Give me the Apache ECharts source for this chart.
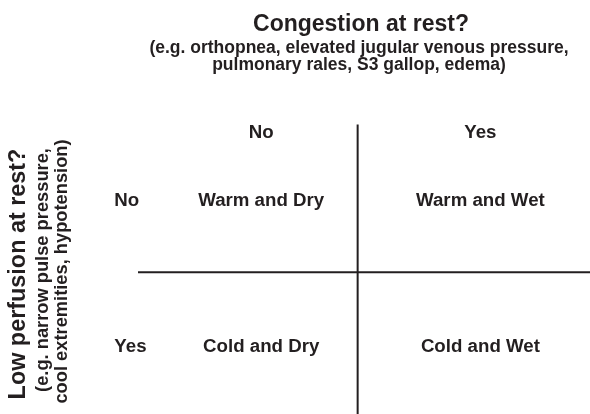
<!DOCTYPE html>
<html>
<head>
<meta charset="utf-8">
<script src="https://cdn.jsdelivr.net/npm/echarts@6/dist/echarts.min.js"></script>
<style>
  html, body { margin: 0; padding: 0; background: #fff; }
  #chart { width: 590px; height: 414px; }
</style>
</head>
<body>
<div id="chart"></div>
<script>
// ---- data ----
var colLabels = ['No', 'Yes'];            // congestion at rest?
var rowLabels = ['No', 'Yes'];            // low perfusion at rest?
var quadrants = [
    ['Warm and Dry', 'Warm and Wet'],
    ['Cold and Dry', 'Cold and Wet']
];
var colPos = [1, 2];
var rowPos = [1, 2];
var headerRow = 0.53;    // y of column headers
var rowLabelCol = 0.33;  // x of row labels
var xDivide = 1.44;      // vertical divider
var yDivide = 1.5;       // horizontal divider

var topTitle = 'Congestion at rest?';
var topSub = '(e.g. orthopnea, elevated jugular venous pressure,\npulmonary rales, S3 gallop, edema)';
var leftTitle = 'Low perfusion at rest?';
var leftSub = ['(e.g. narrow pulse pressure,', 'cool extremities, hypotension)'];

var ink = '#231f20';
var font = 'Liberation Sans, Arial, sans-serif';

// ---- build ----
var chart = echarts.init(document.getElementById('chart'));

var centerTexts = [];
colLabels.forEach(function (t, i) { centerTexts.push([colPos[i], headerRow, t]); });
quadrants.forEach(function (row, r) {
    row.forEach(function (t, c) { centerTexts.push([colPos[c], rowPos[r], t]); });
});
var leftTexts = rowLabels.map(function (t, r) { return [rowLabelCol, rowPos[r], t]; });

function textSeries(data, align) {
    return {
        type: 'scatter',
        data: data,
        symbolSize: 1,
        itemStyle: { color: 'rgba(0,0,0,0)', opacity: 1 },
        silent: true,
        label: {
            show: true,
            position: 'inside',
            align: align,
            offset: [0, 2],
            opacity: 1,
            formatter: function (p) { return p.value[2]; },
            color: ink,
            fontFamily: font,
            fontWeight: 'bold',
            fontSize: 18.7
        }
    };
}

function divider(a, b) {
    return {
        type: 'line',
        data: [a, b],
        showSymbol: false,
        silent: true,
        lineStyle: { color: ink, width: 2 }
    };
}

function sideText(text, x, y, size) {
    return {
        type: 'text', x: x, y: y, rotation: Math.PI / 2,
        style: { text: text, fill: ink, align: 'center', verticalAlign: 'middle',
                 font: 'bold ' + size + 'px ' + font }
    };
}

var option = {
    animation: false,
    title: [
        {
            text: topTitle,
            left: 356,
            top: 8.3,
            textAlign: 'center',
            textStyle: { color: ink, fontFamily: font, fontWeight: 'bold', fontSize: 23, lineHeight: 23 }
        },
        {
            text: topSub,
            left: 354,
            top: 34.5,
            textAlign: 'center',
            textStyle: { color: ink, fontFamily: font, fontWeight: 'bold', fontSize: 17.5, lineHeight: 17 }
        }
    ],
    grid: { left: 42, right: 0, top: 53, bottom: 0 },
    xAxis: { type: 'value', min: 0, max: 2.5, show: false },
    yAxis: { type: 'value', min: 0, max: 2.47, inverse: true, show: false },
    graphic: [
        sideText(leftTitle, 19, 274, 23.4),
        sideText(leftSub[0], 43, 270, 18.3),
        sideText(leftSub[1], 61.5, 271.5, 18.3)
    ],
    series: [
        divider([xDivide, 0.49], [xDivide, 2.47]),
        divider([0.438, yDivide], [2.5, yDivide]),
        textSeries(centerTexts, 'center'),
        textSeries(leftTexts, 'left')
    ]
};

chart.setOption(option);
</script>
</body>
</html>
